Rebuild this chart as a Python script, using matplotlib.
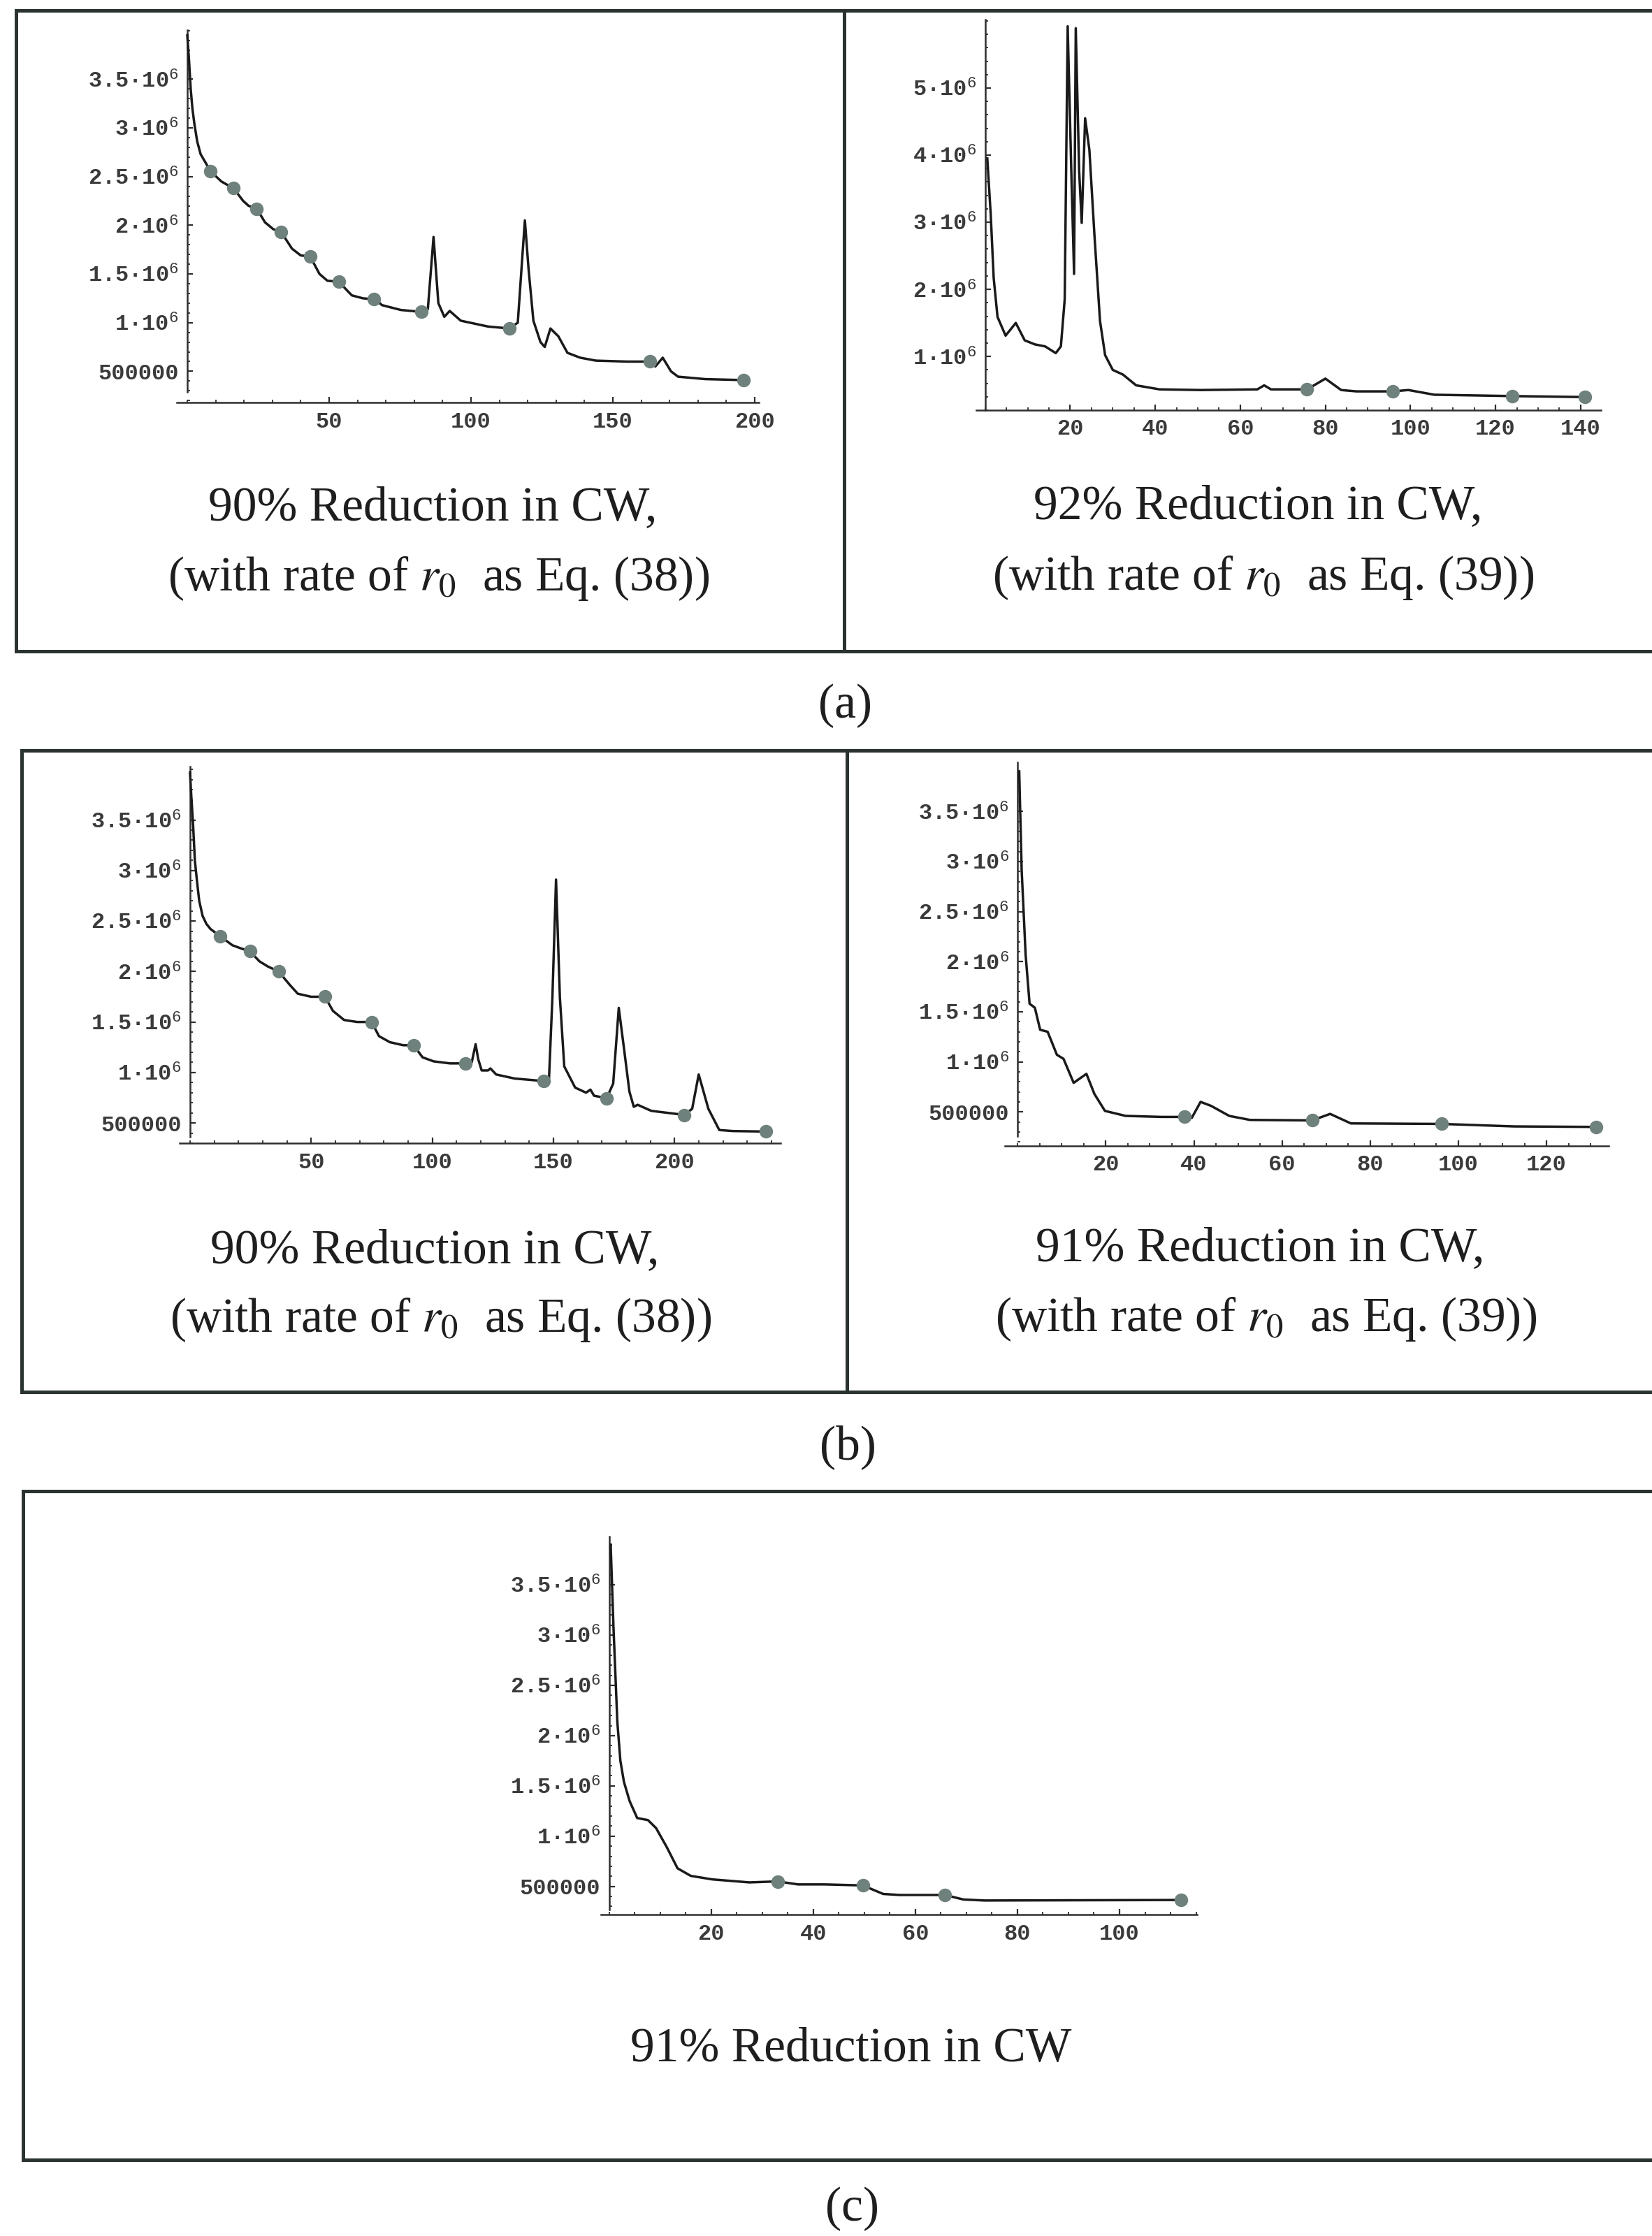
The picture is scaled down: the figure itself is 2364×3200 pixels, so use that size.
import matplotlib
matplotlib.use("Agg")
import matplotlib.pyplot as plt
from matplotlib.lines import Line2D
from matplotlib.ticker import MultipleLocator

# ---------------- data ----------------
# Panel (a) left: 90% reduction, Eq. (38)
a1_x = [0, 0.6, 1.2, 1.8, 2.5, 3.5, 4.7, 7.1, 8.2, 12.0, 15.0, 16.3, 19.7, 21.6, 24.5, 27.4, 30.3, 33.1,
        36.9, 40.0, 43.3, 46.6, 49.4, 53.4, 58.0, 61.9, 65.7, 67.5, 68.6, 75.3, 82.6, 84.8, 86.8,
        88.5, 90.6, 92.5, 96.4, 106.0, 113.6, 116.5, 117.8, 119.0, 120.3, 122.0, 124.5, 126.0,
        128.0, 130.8, 134.0, 138.5, 144.0, 155.0, 163.0, 165.0, 167.6, 170.5, 173.0, 182.6, 196.0]
a1_y = [3.95e6, 3.70e6, 3.40e6, 3.20e6, 3.04e6, 2.86e6, 2.73e6, 2.61e6, 2.555e6, 2.45e6, 2.40e6, 2.38e6, 2.25e6,
        2.20e6, 2.17e6, 2.03e6, 1.96e6, 1.93e6, 1.76e6, 1.69e6, 1.68e6, 1.50e6, 1.43e6, 1.42e6,
        1.28e6, 1.25e6, 1.24e6, 1.21e6, 1.18e6, 1.13e6, 1.11e6, 1.14e6, 1.88e6, 1.20e6, 1.06e6,
        1.12e6, 1.02e6, 0.96e6, 0.94e6, 1.00e6, 1.55e6, 2.05e6, 1.55e6, 1.02e6, 0.80e6, 0.75e6,
        0.94e6, 0.86e6, 0.69e6, 0.64e6, 0.61e6, 0.60e6, 0.60e6, 0.55e6, 0.64e6, 0.50e6, 0.445e6,
        0.42e6, 0.41e6]
a1_mx = [8.2, 16.3, 24.5, 33.1, 43.3, 53.4, 65.7, 82.6, 113.6, 163.0, 196.0]
a1_my = [2.555e6, 2.38e6, 2.17e6, 1.93e6, 1.68e6, 1.42e6, 1.24e6, 1.11e6, 0.94e6, 0.60e6, 0.41e6]

# Panel (a) right: 92% reduction, Eq. (39)
a2_x = [0.5, 1.3, 2.0, 2.9, 4.8, 7.2, 9.3, 11.7, 14.1, 16.6, 17.8, 18.7, 19.4, 20.2, 20.9, 21.3,
        22.1, 22.7, 23.5, 24.5, 25.7, 27.0, 28.2, 30.0, 32.4, 35.5, 41.0, 50.7, 64.0, 65.6, 67.2,
        75.7, 80.0, 83.7, 87.3, 95.9, 99.5, 105.6, 123.9, 141.0]
a2_y = [3.95e6, 3.12e6, 2.17e6, 1.59e6, 1.31e6, 1.50e6, 1.24e6, 1.18e6, 1.15e6, 1.05e6, 1.15e6,
        1.85e6, 5.92e6, 3.89e6, 2.23e6, 5.89e6, 3.76e6, 2.99e6, 4.55e6, 4.08e6, 2.80e6, 1.53e6,
        1.02e6, 0.80e6, 0.73e6, 0.57e6, 0.51e6, 0.50e6, 0.51e6, 0.57e6, 0.51e6, 0.51e6, 0.67e6,
        0.50e6, 0.48e6, 0.48e6, 0.50e6, 0.43e6, 0.41e6, 0.395e6]
a2_mx = [75.7, 95.9, 123.9, 141.0]
a2_my = [0.51e6, 0.48e6, 0.41e6, 0.395e6]

# Panel (b) left: 90% reduction, Eq. (38)
b1_x = [0, 0.5, 1.3, 2.0, 2.9, 3.8, 5.2, 6.8, 8.5, 12.4, 17.5, 20.9, 24.7, 28.7, 32.1, 36.6, 41.1, 44.5, 50.0, 55.7,
        59.0, 63.6, 69.0, 75.0, 78.0, 82.5, 88.0, 92.3, 96.0, 100.6, 107.3, 113.6, 116.3, 117.9,
        119.0, 120.4, 123.0, 124.0, 126.4, 134.0, 146.0, 148.2, 149.6, 151.1, 152.7, 154.5, 159.0,
        163.5, 165.3, 166.8, 172.0, 174.7, 177.0, 179.2, 181.4, 183.2, 184.8, 190.4, 204.0, 207.3,
        210.0, 214.0, 218.5, 224.0, 237.6]
b1_y = [3.97e6, 3.75e6, 3.44e6, 3.10e6, 2.89e6, 2.70e6, 2.55e6, 2.47e6, 2.42e6, 2.35e6, 2.26e6, 2.23e6, 2.20e6, 2.10e6, 2.05e6,
        2.00e6, 1.87e6, 1.78e6, 1.75e6, 1.75e6, 1.61e6, 1.52e6, 1.50e6, 1.50e6, 1.36e6, 1.30e6,
        1.27e6, 1.27e6, 1.15e6, 1.11e6, 1.09e6, 1.09e6, 1.10e6, 1.28e6, 1.13e6, 1.02e6, 1.02e6,
        1.04e6, 0.98e6, 0.94e6, 0.915e6, 0.94e6, 1.74e6, 2.91e6, 1.74e6, 1.06e6, 0.85e6, 0.80e6,
        0.83e6, 0.77e6, 0.745e6, 0.89e6, 1.64e6, 1.23e6, 0.81e6, 0.66e6, 0.68e6, 0.62e6, 0.58e6,
        0.64e6, 0.98e6, 0.64e6, 0.43e6, 0.42e6, 0.415e6]
b1_mx = [12.4, 24.7, 36.6, 55.7, 75.0, 92.3, 113.6, 146.0, 172.0, 204.0, 237.6]
b1_my = [2.35e6, 2.20e6, 2.00e6, 1.75e6, 1.50e6, 1.27e6, 1.09e6, 0.915e6, 0.745e6, 0.58e6, 0.415e6]

# Panel (b) right: 91% reduction, Eq. (39)
b2_x = [0.35, 0.9, 1.8, 2.7, 3.9, 5.1, 6.8, 8.9, 10.4, 12.7, 15.6, 17.4, 19.8, 24.5, 32.7, 37.8,
        39.5, 41.5, 43.9, 48.0, 52.7, 66.8, 70.9, 75.6, 96.2, 112.7, 131.3]
b2_y = [3.90e6, 2.92e6, 2.07e6, 1.58e6, 1.54e6, 1.32e6, 1.30e6, 1.07e6, 1.03e6, 0.79e6, 0.88e6,
        0.68e6, 0.51e6, 0.46e6, 0.45e6, 0.45e6, 0.44e6, 0.60e6, 0.56e6, 0.46e6, 0.42e6, 0.415e6,
        0.48e6, 0.385e6, 0.38e6, 0.355e6, 0.35e6]
b2_mx = [37.8, 66.8, 96.2, 131.3]
b2_my = [0.45e6, 0.415e6, 0.38e6, 0.35e6]

# Panel (c): 91% reduction
c_x = [0.3, 0.84, 1.6, 2.2, 2.9, 4.0, 5.5, 7.6, 9.2, 11.3, 13.4, 16.0, 20.2, 27.5, 33.0, 37.0,
       42.2, 49.7, 53.7, 56.9, 65.8, 69.4, 73.6, 112.1]
c_y = [3.90e6, 3.09e6, 2.14e6, 1.75e6, 1.54e6, 1.35e6, 1.18e6, 1.16e6, 1.08e6, 0.89e6, 0.68e6,
       0.605e6, 0.57e6, 0.54e6, 0.55e6, 0.52e6, 0.52e6, 0.51e6, 0.425e6, 0.415e6, 0.415e6,
       0.37e6, 0.36e6, 0.365e6]
c_mx = [33.0, 49.7, 65.8, 112.1]
c_my = [0.55e6, 0.51e6, 0.415e6, 0.365e6]

# tick values / labels
ytick_vals_35 = [0.5e6, 1.0e6, 1.5e6, 2.0e6, 2.5e6, 3.0e6, 3.5e6]
ytick_labels_35 = ['500000', '1·10$^{\\mathrm{6}}$', '1.5·10$^{\\mathrm{6}}$', '2·10$^{\\mathrm{6}}$',
                   '2.5·10$^{\\mathrm{6}}$', '3·10$^{\\mathrm{6}}$', '3.5·10$^{\\mathrm{6}}$']
ytick_vals_5 = [1e6, 2e6, 3e6, 4e6, 5e6]
ytick_labels_5 = ['1·10$^{\\mathrm{6}}$', '2·10$^{\\mathrm{6}}$', '3·10$^{\\mathrm{6}}$',
                  '4·10$^{\\mathrm{6}}$', '5·10$^{\\mathrm{6}}$']
xticks_50 = [50, 100, 150, 200]
xticks_a2 = [20, 40, 60, 80, 100, 120, 140]
xticks_b2 = [20, 40, 60, 80, 100, 120]
xticks_c = [20, 40, 60, 80, 100]

cap_a1 = ['90% Reduction in CW,', '(with rate of $r_0$  as Eq. (38))']
cap_a2 = ['92% Reduction in CW,', '(with rate of $r_0$  as Eq. (39))']
cap_b1 = ['90% Reduction in CW,', '(with rate of $r_0$  as Eq. (38))']
cap_b2 = ['91% Reduction in CW,', '(with rate of $r_0$  as Eq. (39))']
cap_c = ['91% Reduction in CW']
row_labels = ['(a)', '(b)', '(c)']

# ---------------- styling ----------------
plt.rcParams['mathtext.fontset'] = 'custom'
plt.rcParams['mathtext.rm'] = 'Liberation Mono'
plt.rcParams['mathtext.it'] = 'Liberation Mono:italic'
plt.rcParams['mathtext.bf'] = 'Liberation Mono:bold'

W, H = 2364, 3200
fig = plt.figure(figsize=(W / 100, H / 100), dpi=100)
fig.patch.set_facecolor('white')

FRAME_C = '#2b3330'
AX_C = '#2e2e2e'
LINE_C = '#1a1a1a'
MARK_C = '#6f817c'
TXT_C = '#1e1e1e'
TICK_C = '#3a3a3a'


def fx(x):
    return x / W


def fy(y):
    return 1 - y / H


def hline(y, x0, x1):
    fig.add_artist(Line2D([fx(x0), fx(x1)], [fy(y), fy(y)], transform=fig.transFigure,
                          color=FRAME_C, lw=3.6, solid_capstyle='projecting'))


def vline(x, y0, y1):
    fig.add_artist(Line2D([fx(x), fx(x)], [fy(y0), fy(y1)], transform=fig.transFigure,
                          color=FRAME_C, lw=3.6, solid_capstyle='projecting'))


# frames
hline(15, 23, W); hline(932, 23, W); vline(23, 15, 932); vline(1208, 15, 932)
hline(1074, 31, W); hline(1992, 31, W); vline(31, 1074, 1992); vline(1212, 1074, 1992)
hline(2134, 33, W); hline(3091, 33, W); vline(33, 2134, 3091)


def make_panel(box, xlim, ylim, ybounds, xs, ys, mxs, mys, xt, xminor, yt, ylabels, yminor):
    left, right, top, bottom = box
    ax = fig.add_axes([fx(left), fy(bottom), (right - left) / W, (bottom - top) / H])
    ax.set_xlim(*xlim)
    ax.set_ylim(*ylim)
    ax.patch.set_alpha(0)
    for s in ('top', 'right'):
        ax.spines[s].set_visible(False)
    ax.spines['left'].set_position(('data', 0))
    ax.spines['left'].set_bounds(*ybounds)
    for s in ('left', 'bottom'):
        ax.spines[s].set_color(AX_C)
        ax.spines[s].set_linewidth(1.8)
    ax.plot(xs, ys, color=LINE_C, lw=2.5, zorder=3, clip_on=False, solid_joinstyle='round')
    ax.plot(mxs, mys, 'o', color=MARK_C, ms=13, zorder=4, clip_on=False)
    ax.set_xticks(xt)
    ax.set_xticklabels([str(v) for v in xt])
    ax.xaxis.set_minor_locator(MultipleLocator(xminor))
    ax.set_yticks(yt)
    ax.set_yticklabels(ylabels)
    ax.yaxis.set_minor_locator(MultipleLocator(yminor))
    ax.tick_params(axis='both', which='major', direction='in', length=6, width=1.6,
                   color=AX_C, labelsize=23, labelcolor=TICK_C, pad=9)
    ax.tick_params(axis='both', which='minor', direction='in', length=3, width=1.3, color=AX_C)
    for lab in ax.get_xticklabels() + ax.get_yticklabels():
        lab.set_fontfamily('Liberation Mono')
        lab.set_math_fontfamily('custom')
        lab.set_fontweight('bold')
    return ax


make_panel((253, 1086, 43, 576), (-3.7, 201.5), (0.18e6, 4.005e6), (0.29e6, 4.005e6),
           a1_x, a1_y, a1_mx, a1_my, xticks_50, 10, ytick_vals_35, ytick_labels_35, 0.1e6)
make_panel((1397, 2291, 28, 587), (-2.1, 144.8), (0.2e6, 6.02e6), (0.2e6, 6.02e6),
           a2_x, a2_y, a2_mx, a2_my, xticks_a2, 5, ytick_vals_5, ytick_labels_5, 0.2e6)
make_panel((257, 1117, 1097, 1636), (-4.3, 243.8), (0.30e6, 4.03e6), (0.364e6, 4.03e6),
           b1_x, b1_y, b1_mx, b1_my, xticks_50, 10, ytick_vals_35, ytick_labels_35, 0.1e6)
make_panel((1438, 2302, 1091, 1640), (-2.9, 134.1), (0.16e6, 3.99e6), (0.257e6, 3.99e6),
           b2_x, b2_y, b2_mx, b2_my, xticks_b2, 5, ytick_vals_35, ytick_labels_35, 0.1e6)
make_panel((860, 1713, 2199, 2740), (-1.6, 115.2), (0.22e6, 3.98e6), (0.27e6, 3.98e6),
           c_x, c_y, c_mx, c_my, xticks_c, 5, ytick_vals_35, ytick_labels_35, 0.1e6)


def caption(x, y, s, size=50):
    fig.text(fx(x), fy(y), s, ha='center', va='baseline', fontsize=size,
             family='Liberation Serif', math_fontfamily='stix', color=TXT_C)


caption(619, 744, cap_a1[0]); caption(628, 845, cap_a1[1])
caption(1800, 742, cap_a2[0]); caption(1808, 844, cap_a2[1])
caption(622, 1807, cap_b1[0]); caption(631, 1906, cap_b1[1])
caption(1803, 1804, cap_b2[0]); caption(1812, 1905, cap_b2[1])
caption(1218, 2950, cap_c[0])
caption(1210, 1027, row_labels[0])
caption(1213, 2088, row_labels[1])
caption(1220, 3178, row_labels[2])

fig.savefig('out.png', dpi=100, facecolor='white')
